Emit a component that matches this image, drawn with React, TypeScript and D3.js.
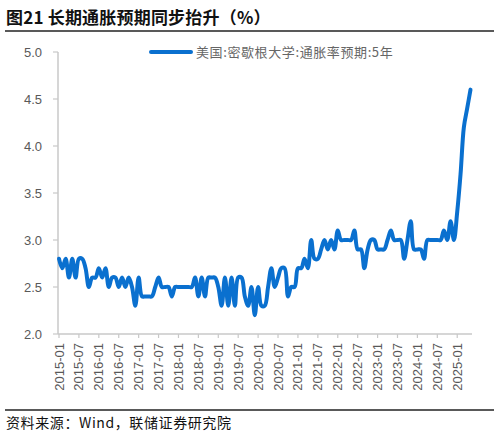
import React from 'react';
import * as d3 from 'd3';

// 美国:密歇根大学:通胀率预期:5年, monthly 2015-01 .. 2025-05
const y2015 = [2.8, 2.7, 2.8, 2.6, 2.8, 2.6, 2.8, 2.8, 2.7, 2.5, 2.6, 2.6];
const y2016 = [2.7, 2.6, 2.7, 2.5, 2.6, 2.6, 2.5, 2.6, 2.5, 2.6, 2.5, 2.3];
const y2017 = [2.6, 2.4, 2.4, 2.4, 2.4, 2.5, 2.6, 2.5, 2.5, 2.5, 2.4, 2.5];
const y2018 = [2.5, 2.5, 2.5, 2.5, 2.5, 2.6, 2.4, 2.6, 2.4, 2.6, 2.6, 2.6];
const y2019 = [2.5, 2.3, 2.6, 2.3, 2.6, 2.3, 2.6, 2.6, 2.4, 2.3, 2.5, 2.2];
const y2020 = [2.5, 2.3, 2.3, 2.5, 2.7, 2.5, 2.6, 2.7, 2.7, 2.4, 2.5, 2.5];
const y2021 = [2.7, 2.7, 2.8, 2.7, 3.0, 2.8, 2.8, 2.9, 3.0, 2.9, 3.0, 2.9];
const y2022 = [3.1, 3.0, 3.0, 3.0, 3.0, 3.1, 2.9, 2.9, 2.7, 2.9, 3.0, 3.0];
const y2023 = [2.9, 2.9, 2.9, 3.0, 3.1, 3.0, 3.0, 3.0, 2.8, 3.0, 3.2, 2.9];
const y2024 = [2.9, 2.9, 2.8, 3.0, 3.0, 3.0, 3.0, 3.0, 3.1, 3.0, 3.2, 3.0];
const y2025 = [3.3, 3.7, 4.2, 4.4, 4.6];

const values = [...y2015, ...y2016, ...y2017, ...y2018, ...y2019, ...y2020, ...y2021, ...y2022, ...y2023, ...y2024, ...y2025];

const xLabels = [
  '2015-01', '2015-07', '2016-01', '2016-07', '2017-01', '2017-07', '2018-01',
  '2018-07', '2019-01', '2019-07', '2020-01', '2020-07', '2021-01', '2021-07',
  '2022-01', '2022-07', '2023-01', '2023-07', '2024-01', '2024-07', '2025-01',
];
const yTicks = [2.0, 2.5, 3.0, 3.5, 4.0, 4.5, 5.0];

const title = '图21 长期通胀预期同步抬升（%）';
const seriesName = '美国:密歇根大学:通胀率预期:5年';
const source = '资料来源：Wind，联储证券研究院';

const W = 499;
const H = 435;
const latin = "'Liberation Sans', Arial, 'Noto Sans CJK SC', sans-serif";
const cjk = "'Noto Sans CJK SC', 'Liberation Sans', sans-serif";

export default function App() {
  const x = d3.scaleLinear().domain([0, values.length - 1]).range([59, 470.5]);
  const y = d3.scaleLinear().domain([2, 5]).range([334, 52]);

  const line = d3.line<number>()
    .x((d, i) => x(i))
    .y(d => y(d))
    .curve(d3.curveCatmullRom.alpha(0.5));

  const axisColor = '#c8c8c8';
  const textColor = '#595959';

  return (
    <svg width={W} height={H} style={{ position: 'absolute', left: 0, top: 0, background: '#fff' }}>
      {/* title */}
      <text x={6} y={24} fontSize={17} fontWeight="bold" fill="#111" fontFamily={cjk} letterSpacing={0.2}>{title}</text>
      <line x1={5} x2={494} y1={31} y2={31} stroke="#222" strokeWidth={1.5} />

      {/* y axis */}
      <line x1={58} x2={58} y1={y(5)} y2={y(2)} stroke={axisColor} strokeWidth={1.5} />
      {yTicks.map(t => (
        <g key={t}>
          <line x1={53} x2={58} y1={y(t)} y2={y(t)} stroke={axisColor} strokeWidth={1.2} />
          <text x={42} y={y(t)} dy="0.35em" textAnchor="end" fontSize={13} fill={textColor} fontFamily={latin}>
            {t.toFixed(1)}
          </text>
        </g>
      ))}

      {/* x axis */}
      <line x1={58} x2={472} y1={y(2)} y2={y(2)} stroke={axisColor} strokeWidth={1.5} />
      {xLabels.map((lab, k) => {
        const px = x(k * 6);
        return (
          <g key={lab}>
            <line x1={px} x2={px} y1={y(2)} y2={y(2) + 4} stroke={axisColor} strokeWidth={1.2} />
            <text
              transform={`translate(${px},${y(2) + 9}) rotate(-90)`}
              textAnchor="end"
              dy="0.35em"
              fontSize={13}
              fill={textColor}
              fontFamily={latin}
            >
              {lab}
            </text>
          </g>
        );
      })}

      {/* series */}
      <path d={line(values) || ''} fill="none" stroke="#0a70cf" strokeWidth={4} strokeLinejoin="round" strokeLinecap="round" />

      {/* legend */}
      <line x1={151} x2={191} y1={52} y2={52} stroke="#0a70cf" strokeWidth={4} strokeLinecap="round" />
      <text x={196} y={52} dy="0.35em" fontSize={13} fill="#666" fontFamily={cjk} letterSpacing={0.6}>{seriesName}</text>

      {/* footer */}
      <line x1={5} x2={494} y1={410} y2={410} stroke="#222" strokeWidth={1.5} />
      <text x={6} y={423} dy="0.35em" fontSize={14} fill="#111" fontFamily={cjk} letterSpacing={0.6}>{source}</text>
    </svg>
  );
}
